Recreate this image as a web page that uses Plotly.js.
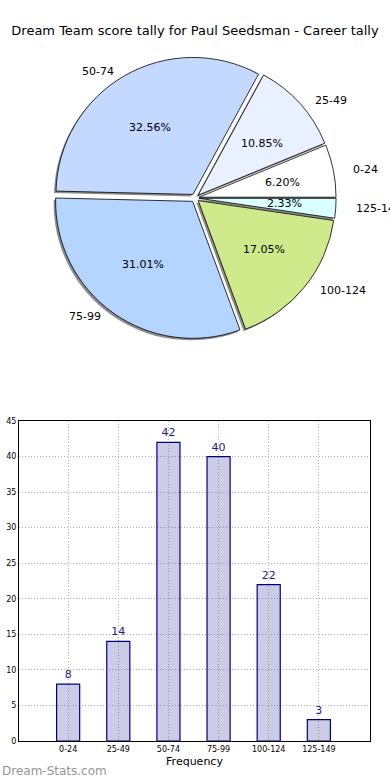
<!DOCTYPE html>
<html><head><meta charset="utf-8">
<script src="https://cdn.plot.ly/plotly-3.0.1.min.js"></script>
<style>html,body{margin:0;padding:0;background:#fff}#chart{width:390px;height:780px}</style>
</head><body><div id="chart"></div>
<script>
// ---- data ----
const categories = ['0-24', '25-49', '50-74', '75-99', '100-124', '125-149'];
const counts = [8, 14, 42, 40, 22, 3];
const sliceColors = ['#ffffff', '#e9f0ff', '#c4d9ff', '#b4d5ff', '#cfea8a', '#d9ffff'];
const yTickVals = [0, 5, 10, 15, 20, 25, 30, 35, 40, 45];
const titleText = 'Dream Team score tally for Paul Seedsman - Career tally';
const xAxisTitle = 'Frequency';
const watermark = 'Dream-Stats.com';

// ---- geometry (pixels) ----
const W = 390, H = 780;
const cx = 195, cy = 198, R = 137, pull = 0.03;
const rx = 142, ry = 129;
const half = R * (1 + pull);
const domX = [(cx - half) / W, (cx + half) / W];
const domY = [1 - (cy + half) / H, 1 - (cy - half) / H];
const sh = 2;
const FONT = 'DejaVu Sans, sans-serif';

const total = counts.reduce((a, b) => a + b, 0);
// counterclockwise pies in plotly end the first slice at `rotation`; start it at 3 o'clock instead
const rot = 90 - 360 * counts[0] / total;

const shadow = {
  type: 'pie', labels: categories, values: counts, sort: false,
  direction: 'counterclockwise', rotation: rot,
  pull: counts.map(() => pull),
  marker: {colors: counts.map(() => 'rgba(0,0,0,0.45)'), line: {width: 0}},
  textinfo: 'none', hoverinfo: 'none', showlegend: false,
  domain: {x: [domX[0] - sh / W, domX[1] - sh / W], y: [domY[0] - sh / H, domY[1] - sh / H]}
};
const pie = {
  type: 'pie', labels: categories, values: counts, sort: false,
  direction: 'counterclockwise', rotation: rot,
  pull: counts.map(() => pull),
  marker: {colors: sliceColors, line: {color: '#000', width: 0.8}},
  textinfo: 'none', hoverinfo: 'none', showlegend: false,
  domain: {x: domX, y: domY}
};

const annotations = [];
let acc = 0;
counts.forEach((v, i) => {
  const frac = v / total;
  const mid = (acc + frac / 2) * 2 * Math.PI;
  acc += frac;
  const c = Math.cos(mid), s = Math.sin(mid);
  const ex = cx + pull * R * c, ey = cy - pull * R * s;
  const lx = ex + 1.1 * rx * c, ly = ey - 1.1 * ry * s;
  const px = ex + 0.6 * rx * c, py = ey - 0.6 * ry * s;
  annotations.push({
    xref: 'paper', yref: 'paper', x: lx / W, y: 1 - ly / H,
    xanchor: c > 0 ? 'left' : 'right', yanchor: 'middle', showarrow: false,
    text: categories[i], font: {family: FONT, size: 11, color: '#000'}, borderpad: 0
  });
  annotations.push({
    xref: 'paper', yref: 'paper', x: px / W, y: 1 - py / H,
    xanchor: 'center', yanchor: 'middle', showarrow: false,
    text: (frac * 100).toFixed(2) + '%', font: {family: FONT, size: 11, color: '#000'}, borderpad: 0
  });
});
annotations.push({
  xref: 'paper', yref: 'paper', x: 0, y: 0, xanchor: 'left', yanchor: 'bottom',
  showarrow: false, text: watermark,
  font: {family: FONT, size: 12, color: '#959595'}, borderpad: 1
});

const bars = {
  type: 'bar', x: categories, y: counts, xaxis: 'x', yaxis: 'y',
  width: 0.46,
  marker: {color: 'rgba(0,0,128,0.2)', line: {color: '#000080', width: 1.2}},
  text: counts.map(String), textposition: 'outside', cliponaxis: false,
  textfont: {family: FONT, size: 11, color: '#1a1a8c'},
  hoverinfo: 'none', showlegend: false
};

const layout = {
  width: W, height: H, margin: {l: 0, r: 0, t: 0, b: 0},
  paper_bgcolor: '#fff', plot_bgcolor: 'rgba(0,0,0,0)',
  showlegend: false,
  title: {text: titleText, x: 0.5, xanchor: 'center', y: 1 - 30 / H, yanchor: 'middle',
          font: {family: FONT, size: 13, color: '#000'}},
  xaxis: {
    domain: [19 / W, 370 / W], type: 'category', range: [-0.98, 6.02],
    showgrid: true, gridcolor: '#b4b4b4', griddash: '1px,2px', gridwidth: 1,
    showline: true, mirror: true, linecolor: '#000', linewidth: 1,
    ticks: '', tickfont: {family: FONT, size: 8, color: '#000'},
    title: {text: xAxisTitle, font: {family: FONT, size: 11, color: '#000'}, standoff: 4},
    zeroline: false, fixedrange: true
  },
  yaxis: {
    domain: [(H - 741) / H, (H - 421) / H], range: [0, 45], tickvals: yTickVals,
    showgrid: true, gridcolor: '#b4b4b4', griddash: '1px,2px', gridwidth: 1,
    showline: true, mirror: true, linecolor: '#000', linewidth: 1,
    ticks: '', tickfont: {family: FONT, size: 8, color: '#000'},
    zeroline: false, fixedrange: true
  },
  annotations: annotations
};

Plotly.newPlot('chart', [bars, shadow, pie], layout, {displayModeBar: false, staticPlot: true});
</script>
</body></html>
